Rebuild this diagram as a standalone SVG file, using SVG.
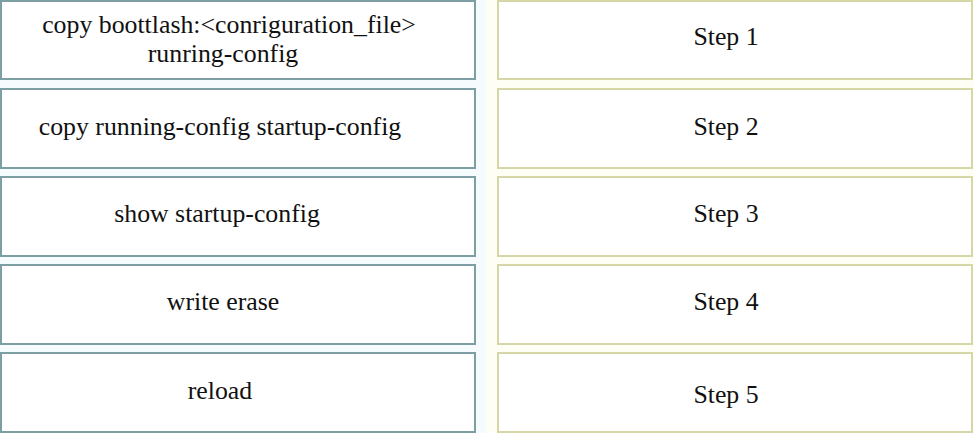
<svg xmlns="http://www.w3.org/2000/svg" width="974" height="433" viewBox="0 0 974 433">
<style>
.l{fill:#ffffff;stroke:#7d9ea3;stroke-width:2}
.r{fill:#ffffff;stroke:#d6d6a6;stroke-width:2}
text{font-family:"Liberation Serif","Times New Roman",serif;font-size:25.8px;fill:#111;text-anchor:middle}
</style>
<rect x="0" y="0" width="974" height="433" fill="#ffffff"/>
<rect x="480" y="0" width="494" height="433" fill="#fffef4"/>
<rect x="0" y="0" width="486" height="433" fill="#f6fcfd"/>
<g id="cmd1"><rect class="l" x="1" y="1" width="474" height="78"/><text x="229" y="33">copy boottlash:&lt;conriguration_file&gt;</text><text x="223" y="62">runring-config</text></g>
<g id="cmd2"><rect class="l" x="1" y="89" width="474" height="79"/><text x="220" y="135">copy running-config startup-config</text></g>
<g id="cmd3"><rect class="l" x="1" y="177" width="474" height="79"/><text x="217" y="222">show startup-config</text></g>
<g id="cmd4"><rect class="l" x="1" y="265" width="474" height="79"/><text x="223" y="310">write erase</text></g>
<g id="cmd5"><rect class="l" x="1" y="353" width="474" height="79"/><text x="220" y="399">reload</text></g>
<g id="step1"><rect class="r" x="498" y="1" width="474" height="78"/><text x="726" y="45">Step 1</text></g>
<g id="step2"><rect class="r" x="498" y="89" width="474" height="79"/><text x="726" y="135">Step 2</text></g>
<g id="step3"><rect class="r" x="498" y="177" width="474" height="79"/><text x="726" y="222">Step 3</text></g>
<g id="step4"><rect class="r" x="498" y="265" width="474" height="79"/><text x="726" y="310">Step 4</text></g>
<g id="step5"><rect class="r" x="498" y="353" width="474" height="79"/><text x="726" y="403">Step 5</text></g>
<g id="connectors"></g>
</svg>
